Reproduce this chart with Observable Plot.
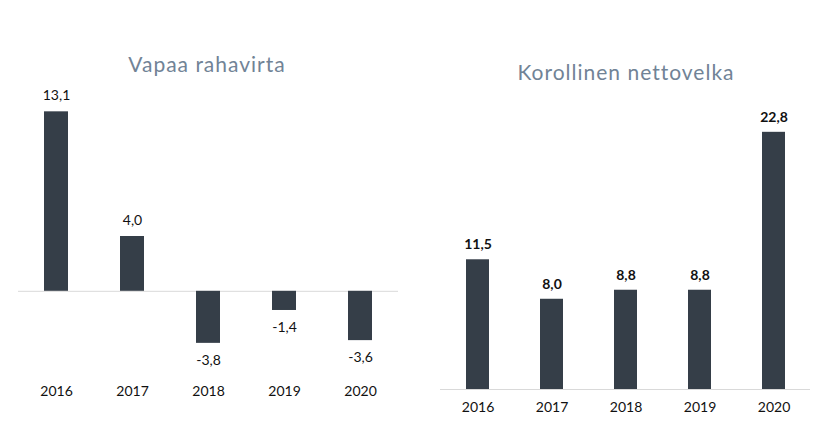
<!DOCTYPE html>
<html>
<head>
<meta charset="utf-8">
<script src="https://cdn.jsdelivr.net/npm/d3@7"></script>
<script src="https://cdn.jsdelivr.net/npm/@observablehq/plot@0.6"></script>
<style>
  body { margin: 0; background: #fff; }
  #wrap { position: relative; width: 830px; height: 426px; overflow: hidden; font-family: Lato, sans-serif; }
  .title { position: absolute; text-align: center; font-size: 21px; line-height: 24px; letter-spacing: 1px; color: #718396; white-space: nowrap; }
  .chart { position: absolute; top: 0; }
</style>
</head>
<body>
<div id="wrap">
  <div id="left" class="chart" style="left:0"></div>
  <div id="right" class="chart" style="left:415px"></div>
  <div class="title" style="left:57px;width:300px;top:52px">Vapaa rahavirta</div>
  <div class="title" style="left:476px;width:300px;top:60px">Korollinen nettovelka</div>
</div>
<script>
const years = ["2016", "2017", "2018", "2019", "2020"];
const freeCashFlow = [13.1, 4.0, -3.8, -1.4, -3.6];
const netDebt = [11.5, 8.0, 8.8, 8.8, 22.8];

const fmt = d => d.toFixed(1).replace(".", ",");
const barColor = "#353e48";
const lineColor = "#d9d9d9";

const leftData = years.map((year, i) => ({year, value: freeCashFlow[i]}));
const rightData = years.map((year, i) => ({year, value: netDebt[i]}));

const left = Plot.plot({
  width: 415, height: 426,
  marginLeft: 18, marginRight: 17, marginTop: 99, marginBottom: 53,
  style: {fontFamily: "Lato, sans-serif", fontSize: "14px", color: "#111", background: "transparent"},
  x: {domain: years, paddingInner: 0.684, paddingOuter: 0.342, label: null},
  y: {domain: [-6, 14], axis: null},
  marks: [
    Plot.ruleY([0], {stroke: lineColor, strokeWidth: 1}),
    Plot.barY(leftData, {x: "year", y: "value", fill: barColor}),
    Plot.text(leftData.filter(d => d.value >= 0), {x: "year", y: "value", text: d => fmt(d.value), dy: -16, fontSize: 14, fill: "#111"}),
    Plot.text(leftData.filter(d => d.value < 0), {x: "year", y: "value", text: d => fmt(d.value), dy: 17, fontSize: 14, fill: "#111"}),
    Plot.axisX({tickSize: 0, tickPadding: 13, fontSize: 14, label: null})
  ]
});
document.getElementById("left").appendChild(left);

const right = Plot.plot({
  width: 415, height: 426,
  marginLeft: 25, marginRight: 20, marginTop: 107, marginBottom: 37,
  style: {fontFamily: "Lato, sans-serif", fontSize: "14px", color: "#111", background: "transparent"},
  x: {domain: years, paddingInner: 0.69, paddingOuter: 0.345, label: null},
  y: {domain: [0, 25], axis: null},
  marks: [
    Plot.ruleY([0], {stroke: lineColor, strokeWidth: 1}),
    Plot.barY(rightData, {x: "year", y: "value", fill: barColor}),
    Plot.text(rightData, {x: "year", y: "value", text: d => fmt(d.value), dy: -15, fontSize: 14, fontWeight: "bold", fill: "#111"}),
    Plot.axisX({tickSize: 0, tickPadding: 13, fontSize: 14, label: null})
  ]
});
document.getElementById("right").appendChild(right);
</script>
</body>
</html>
